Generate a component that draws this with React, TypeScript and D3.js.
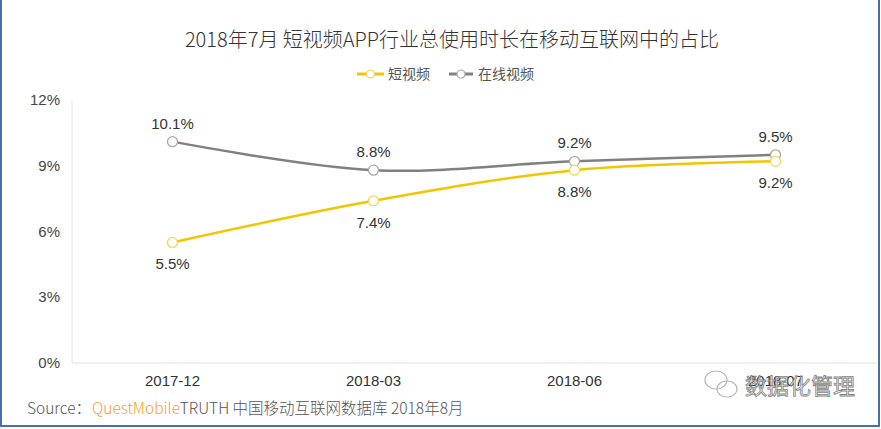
import * as d3 from "d3";

const categories = ["2017-12", "2018-03", "2018-06", "2018-07"];
const shortVideo = [5.5, 7.4, 8.8, 9.2];
const onlineVideo = [10.1, 8.8, 9.2, 9.5];
const yTicks = [0, 3, 6, 9, 12];

const W = 881;
const H = 429;
const CJK = "'Noto Sans CJK SC', 'Noto Sans', sans-serif";
const NUM = "'Liberation Sans', Arial, sans-serif";

export default function App() {
  const x = d3.scaleBand<string>().domain(categories).range([72, 876]);
  const y = d3.scaleLinear().domain([0, 12]).range([363, 100]);
  const cx = (c: string) => (x(c) ?? 0) + x.bandwidth() / 2;

  const line = d3
    .line<number>()
    .x((_, i) => cx(categories[i]))
    .y((d) => y(d))
    .curve(d3.curveCatmullRom.alpha(0.5));

  const series = [
    { name: "在线视频", values: onlineVideo, color: "#808080", marker: "#a8a8a8", above: true },
    { name: "短视频", values: shortVideo, color: "#f2c500", marker: "#f3d65a", above: false },
  ];

  return (
    <svg width={W} height={H} style={{ position: "absolute", left: 0, top: 0, background: "#fff" }}>
      {/* frame */}
      <rect x={1} y={-2} width={W - 3} height={H - 1} fill="none" stroke="#4a6ea8" strokeWidth={2} />

      {/* title */}
      <text x={452} y={47} textAnchor="middle" fontFamily={CJK} fontSize={20} fontWeight={300} fill="#333">
        2018年7月 短视频APP行业总使用时长在移动互联网中的占比
      </text>

      {/* legend */}
      <g fontFamily={CJK} fontSize={14} fill="#555">
        <line x1={357} x2={384} y1={74} y2={74} stroke="#f2c500" strokeWidth={3} />
        <circle cx={370.5} cy={74} r={4} fill="#fff" stroke="#f3d65a" strokeWidth={1.2} />
        <text x={388} y={79}>短视频</text>
        <line x1={449} x2={473} y1={74} y2={74} stroke="#808080" strokeWidth={3} />
        <circle cx={461} cy={74} r={4} fill="#fff" stroke="#a8a8a8" strokeWidth={1.2} />
        <text x={478} y={79}>在线视频</text>
      </g>

      {/* axes */}
      <line x1={72} x2={72} y1={y(12)} y2={y(0)} stroke="#e6e6e6" />
      <line x1={72} x2={876} y1={y(0)} y2={y(0)} stroke="#e0e0e0" />
      {yTicks.map((t) => (
        <text key={t} x={60} y={y(t) + 5} textAnchor="end" fontFamily={NUM} fontSize={15} fill="#444">
          {t}%
        </text>
      ))}
      {categories.map((c) => (
        <text key={c} x={cx(c)} y={386} textAnchor="middle" fontFamily={NUM} fontSize={15} fill="#333">
          {c}
        </text>
      ))}

      {/* series */}
      {series.map((s) => (
        <g key={s.name}>
          <path d={line(s.values) ?? ""} fill="none" stroke={s.color} strokeWidth={2.5} />
          {s.values.map((v, i) => (
            <g key={i}>
              <circle cx={cx(categories[i])} cy={y(v)} r={5} fill="#fff" stroke={s.marker} strokeWidth={1.3} />
              <text
                x={cx(categories[i])}
                y={s.above ? y(v) - 13 : y(v) + 27}
                textAnchor="middle"
                fontFamily={NUM}
                fontSize={15}
                fill="#333"
              >
                {v.toFixed(1)}%
              </text>
            </g>
          ))}
        </g>
      ))}

      {/* watermark */}
      <g fill="none" stroke="#b0b0b0" strokeWidth={1.2} opacity={0.9}>
        <ellipse cx={716} cy={380} rx={11} ry={9} />
        <ellipse cx={727} cy={389} rx={10} ry={8} />
      </g>
      <text
        x={745}
        y={394}
        fontFamily={CJK}
        fontSize={22}
        fill="#eeeeee"
        stroke="#6f6f6f"
        strokeWidth={0.8}
        opacity={0.85}
      >
        数据化管理
      </text>

      {/* source */}
      <text x={27} y={414} fontFamily={CJK} fontSize={15.5} fontWeight={300} fill="#555">
        Source：
        <tspan x={92} fill="#f0a030">QuestMobile</tspan>
        <tspan fill="#555">TRUTH 中国移动互联网数据库 2018年8月</tspan>
      </text>
    </svg>
  );
}
